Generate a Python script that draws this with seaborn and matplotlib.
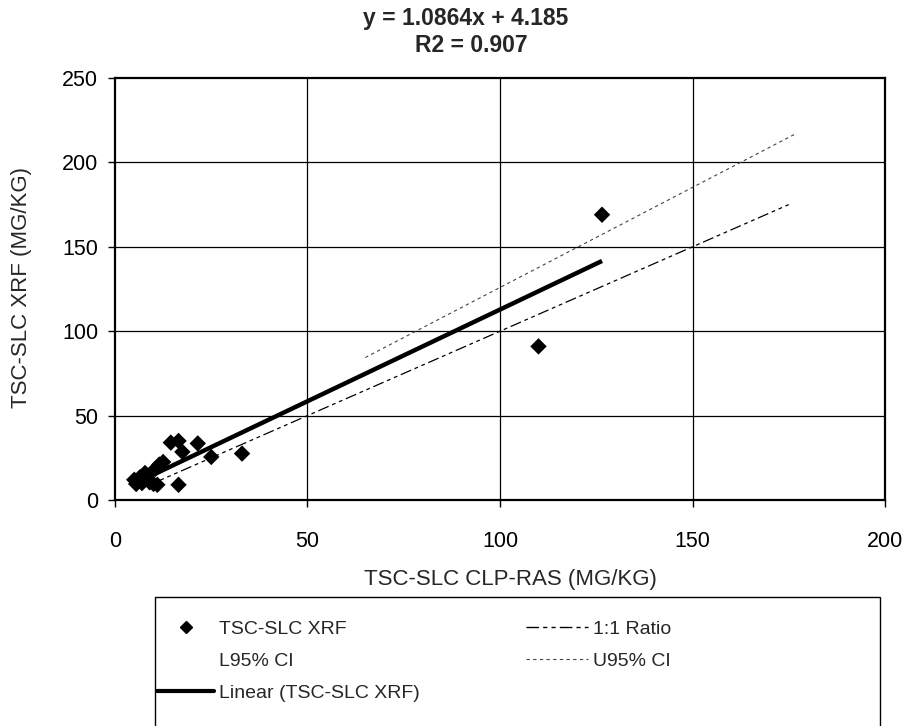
import numpy as np
import matplotlib
matplotlib.use("Agg")
import matplotlib.pyplot as plt
import seaborn as sns
from matplotlib.lines import Line2D
from matplotlib.patches import Rectangle

# data
ras_x = [5.0, 5.5, 6.5, 7.0, 7.8, 8.5, 9.0, 10.0, 10.5, 11.0, 11.5, 12.5,
         14.5, 16.5, 16.5, 17.5, 21.5, 25.0, 33.0, 110.0, 126.5]
xrf_y = [12.0, 9.5, 13.5, 10.0, 16.0, 12.5, 10.5, 9.5, 18.5, 9.0, 21.0, 22.5,
         34.0, 35.0, 9.0, 28.5, 33.5, 25.5, 27.5, 91.0, 169.0]

slope = 1.0864
intercept = 4.185
r2 = 0.907

ratio_x = [10, 175]
ratio_y = [10, 175]
u95_x = [65, 177]
u95_y = [84.4, 217.2]

x_ticks = [0, 50, 100, 150, 200]
y_ticks = [0, 50, 100, 150, 200, 250]

sns.set_style("white")
plt.rcParams['font.family'] = ['Liberation Sans', 'DejaVu Sans']

W, H = 907, 726
fig = plt.figure(figsize=(W / 100, H / 100), dpi=100)
ax = fig.add_axes([115 / W, 1 - 500 / H, 770 / W, 422 / H])

# grid
for v in x_ticks[1:-1]:
    ax.axvline(v, color='black', lw=0.9, zorder=0)
for v in y_ticks[1:-1]:
    ax.axhline(v, color='black', lw=0.9, zorder=0)

ratio_ls = (0, (9, 3, 3, 3, 3, 3))
u95_ls = (0, (3, 3))

# 1:1 and upper CI
ax.plot(ratio_x, ratio_y, color='black', lw=0.9, linestyle=ratio_ls)
ax.plot(u95_x, u95_y, color='#444444', lw=0.8, linestyle=u95_ls)

# trendline over data range
tx = np.array([min(ras_x), max(ras_x)])
ax.plot(tx, slope * tx + intercept, color='black', lw=3.2, solid_capstyle='butt')

sns.scatterplot(x=ras_x, y=xrf_y, ax=ax, marker='D', s=70, color='black',
                edgecolor='none', zorder=5, legend=False)

ax.set_xlim(0, 200)
ax.set_ylim(0, 250)
ax.set_xticks(x_ticks)
ax.set_yticks(y_ticks)
ax.tick_params(axis='both', direction='out', length=5, width=1, labelsize=15.5,
               colors='black', bottom=True, left=True)
ax.tick_params(axis='x', pad=17)
ax.tick_params(axis='y', pad=7)
for s in ax.spines.values():
    s.set_color('black')
    s.set_linewidth(1.6)

ax.set_xlabel('TSC-SLC CLP-RAS (MG/KG)', fontsize=16)
ax.set_ylabel('TSC-SLC XRF (MG/KG)', fontsize=16)
ax.xaxis.label.set_va('center')
ax.yaxis.label.set_va('center')
ax.xaxis.set_label_coords((510 - 115) / 770, (500 - 580) / 422)
ax.yaxis.set_label_coords((22 - 115) / 770, (500 - 288) / 422)

fig.text(466 / W, 1 - 19 / H, f'y = {slope}x + {intercept}', ha='center',
         va='center', fontsize=16.5, fontweight='bold')
fig.text(471 / W, 1 - 46 / H, f'R2 = {r2}', ha='center', va='center',
         fontsize=16.5, fontweight='bold')

# legend box (runs off the bottom of the page)
fig.patches.append(Rectangle((155 / W, -0.05), (880 - 155) / W, 0.05 + (1 - 597 / H),
                             transform=fig.transFigure, fill=False,
                             edgecolor='black', lw=1.0))

h_xrf = Line2D([], [], marker='D', color='black', linestyle='none', markersize=6)
h_l95 = Line2D([], [], linestyle='none')
h_lin = Line2D([], [], color='black', lw=3)
h_11 = Line2D([], [], color='black', lw=1.0, linestyle=ratio_ls)
h_u95 = Line2D([], [], color='#444444', lw=0.8, linestyle=u95_ls)

leg_kw = dict(frameon=False, fontsize=14, handletextpad=0.25, labelspacing=0.75,
              borderpad=0, borderaxespad=0, loc='upper left')
fig.legend([h_xrf, h_l95, h_lin], ['TSC-SLC XRF', 'L95% CI', 'Linear (TSC-SLC XRF)'],
           bbox_to_anchor=(157 / W, 1 - 620 / H), handlelength=2.95, **leg_kw)
fig.legend([h_11, h_u95], ['1:1 Ratio', 'U95% CI'],
           bbox_to_anchor=(526 / W, 1 - 620 / H), handlelength=3.2, **leg_kw)

fig.savefig('out.png', dpi=100)
